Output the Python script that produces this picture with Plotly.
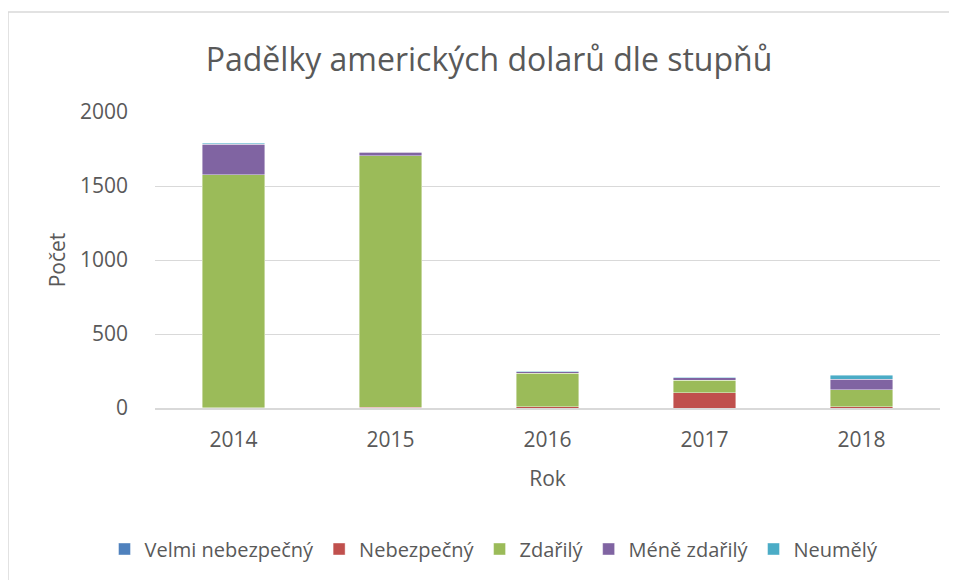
import plotly.graph_objects as go

years = ["2014", "2015", "2016", "2017", "2018"]
velmi_nebezpecny = [0, 0, 0, 0, 0]
nebezpecny = [3, 5, 8, 103, 10]
zdarily = [1572, 1700, 228, 83, 115]
mene_zdarily = [206, 22, 9, 18, 70]
neumely = [9, 5, 4, 4, 26]

series = [
    ("Velmi nebezpečný", velmi_nebezpecny, "#4F81BD"),
    ("Nebezpečný", nebezpecny, "#C0504D"),
    ("Zdařilý", zdarily, "#9BBB59"),
    ("Méně zdařilý", mene_zdarily, "#8064A2"),
    ("Neumělý", neumely, "#4BACC6"),
]

FONT = "Open Sans"
TXT = "#595959"

fig = go.Figure()
for name, vals, col in series:
    fig.add_trace(go.Bar(
        x=years, y=vals, name=name,
        marker=dict(color=col, line=dict(color="rgba(255,255,255,0.6)", width=0.7)),
    ))

# page body has an 8px offset; layout numbers are in figure coordinates
OFF = 8
W, H = 957, 580
L, R, T, B = 155 - OFF, 17 + OFF, 112 - OFF, 172 + OFF
pw, ph = W - L - R, H - T - B

def px(x):
    return (x - OFF - L) / pw

def py(y):
    return (H - B - (y - OFF)) / ph

fig.update_layout(
    width=W, height=H,
    barmode="stack",
    bargap=0.6,
    margin=dict(l=L, r=R, t=T, b=B),
    paper_bgcolor="white",
    plot_bgcolor="white",
    font=dict(family=FONT, color=TXT, size=20),
    title=dict(text="Padělky amerických dolarů dle stupňů", x=(489 - OFF) / W, xref="container",
               xanchor="center", y=1 - (60 - OFF) / H, yref="container", yanchor="middle",
               font=dict(size=32, color=TXT, family=FONT)),
    xaxis=dict(title=dict(text="Rok", font=dict(size=21, color=TXT), standoff=19),
               tickfont=dict(size=21, color=TXT), showgrid=False,
               showline=True, linecolor="#D9D9D9", linewidth=1.5, ticks="",
               ticklabelstandoff=12),
    yaxis=dict(title=dict(text="Počet", font=dict(size=21, color=TXT), standoff=8),
               tickfont=dict(size=21, color=TXT), range=[0, 2000], dtick=500,
               gridcolor="#D9D9D9", gridwidth=1, zeroline=False, ticks="",
               ticklabelstandoff=26),
    legend=dict(orientation="h", x=(494 - OFF) / W, xref="container", xanchor="center",
                y=1 - (549 - OFF) / H, yref="container", yanchor="middle",
                font=dict(size=20, color=TXT), traceorder="normal",
                itemwidth=30),
    shapes=[dict(type="rect", xref="paper", yref="paper",
                 x0=px(8), x1=px(970), y0=py(595), y1=py(12),
                 line=dict(color="#D9D9D9", width=1.5), fillcolor="rgba(0,0,0,0)",
                 layer="below")],
    showlegend=True,
)

fig.write_html("out.html")
